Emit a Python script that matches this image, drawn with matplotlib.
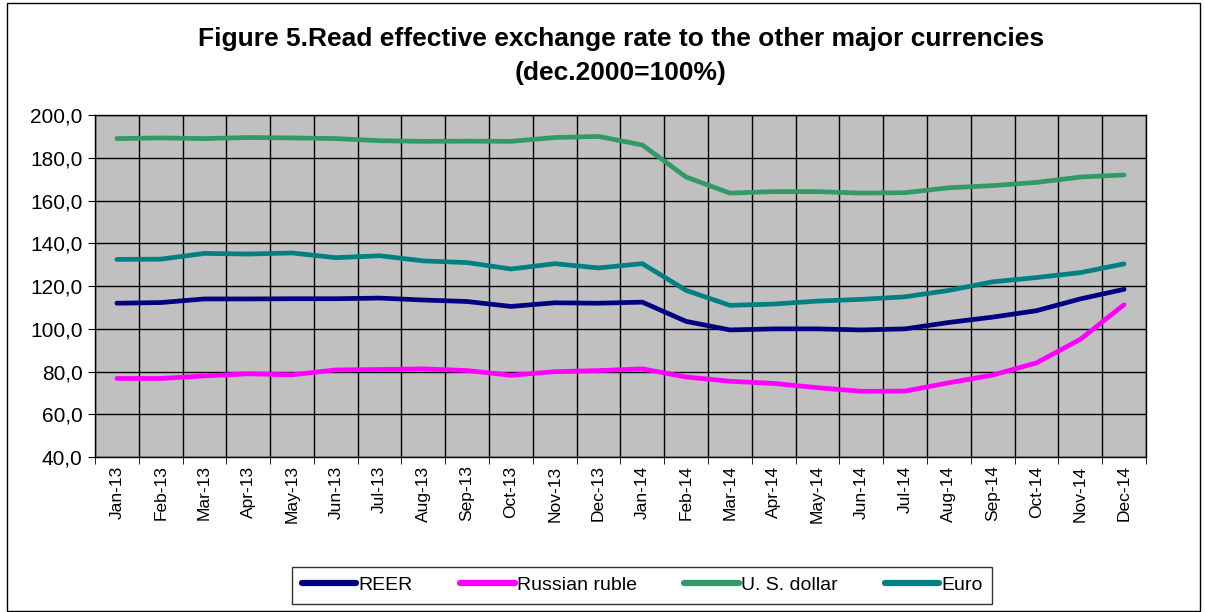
import matplotlib.pyplot as plt
from matplotlib.patches import Rectangle
from matplotlib.ticker import FixedLocator, FuncFormatter

plt.rcParams['font.family'] = ['Liberation Sans', 'DejaVu Sans']

months = ["Jan-13", "Feb-13", "Mar-13", "Apr-13", "May-13", "Jun-13", "Jul-13", "Aug-13",
          "Sep-13", "Oct-13", "Nov-13", "Dec-13", "Jan-14", "Feb-14", "Mar-14", "Apr-14",
          "May-14", "Jun-14", "Jul-14", "Aug-14", "Sep-14", "Oct-14", "Nov-14", "Dec-14"]

reer = [112.0, 112.3, 114.0, 114.0, 114.1, 114.1, 114.4, 113.5, 112.8, 110.5, 112.2, 112.0,
        112.5, 103.5, 99.5, 100.0, 100.0, 99.5, 100.0, 103.0, 105.5, 108.5, 114.0, 118.5]
ruble = [76.8, 76.8, 78.0, 79.0, 78.5, 80.8, 81.0, 81.3, 80.5, 78.3, 80.0, 80.5,
         81.3, 77.5, 75.5, 74.5, 72.5, 70.8, 70.9, 74.8, 78.4, 84.1, 95.1, 111.3]
usd = [189.0, 189.3, 189.0, 189.5, 189.3, 189.0, 188.0, 187.7, 187.8, 187.7, 189.5, 190.0,
       186.0, 171.0, 163.5, 164.2, 164.2, 163.5, 163.7, 166.0, 167.0, 168.5, 171.0, 172.0]
euro = [132.5, 132.6, 135.3, 135.0, 135.5, 133.3, 134.2, 131.8, 131.0, 128.0, 130.5, 128.5,
        130.5, 118.0, 111.0, 111.6, 113.0, 113.8, 115.0, 118.0, 122.0, 124.0, 126.3, 130.4]

series = [("REER", reer, "#000080"),
          ("Russian ruble", ruble, "#FF00FF"),
          ("U. S. dollar", usd, "#339966"),
          ("Euro", euro, "#008080")]

fig = plt.figure(figsize=(12.05, 6.12), dpi=100)
ax = fig.add_axes([0.0788, 0.253, 0.8722, 0.559])
ax.set_facecolor("#C0C0C0")

x = list(range(len(months)))
for name, vals, col in series:
    ax.plot(x, vals, color=col, lw=3.4, label=name, solid_capstyle="round")

ax.set_xlim(-0.5, len(months) - 0.5)
ax.set_ylim(40, 200)
ax.set_yticks(range(40, 201, 20))
ax.yaxis.set_major_formatter(FuncFormatter(lambda v, p: f"{v:.1f}".replace(".", ",")))
ax.set_xticks(x)
ax.set_xticklabels(months, rotation=90, fontsize=12.5)
ax.xaxis.set_minor_locator(FixedLocator([i - 0.5 for i in range(len(months) + 1)]))
ax.tick_params(axis="x", which="major", length=0, pad=6)
ax.tick_params(axis="x", which="minor", length=5, direction="out")
ax.tick_params(axis="y", labelsize=15, length=5, direction="out", pad=4)
ax.grid(True, axis="y", which="major", color="black", lw=1)
ax.grid(True, axis="x", which="minor", color="black", lw=1)
ax.set_axisbelow(True)
for s in ax.spines.values():
    s.set_color("black")
    s.set_linewidth(1)

fig.text(0.515, 0.936, "Figure 5.Read effective exchange rate to the other major currencies",
         ha="center", va="center", fontsize=19, fontweight="bold")
fig.text(0.515, 0.880, "(dec.2000=100%)", ha="center", va="center", fontsize=19, fontweight="bold")

leg = fig.legend(loc="center", bbox_to_anchor=(0.533, 0.044), ncol=4, fontsize=14,
                 frameon=True, fancybox=False, edgecolor="black", handlelength=2.8,
                 handletextpad=0.1, columnspacing=2.45, borderpad=0.5)
leg.get_frame().set_linewidth(1)
for line in leg.get_lines():
    line.set_linewidth(4.5)

fig.patches.append(Rectangle((0.006, 0.002), 0.99, 0.993, transform=fig.transFigure,
                             fill=False, edgecolor="black", lw=1))

fig.savefig("out.png", dpi=100)
